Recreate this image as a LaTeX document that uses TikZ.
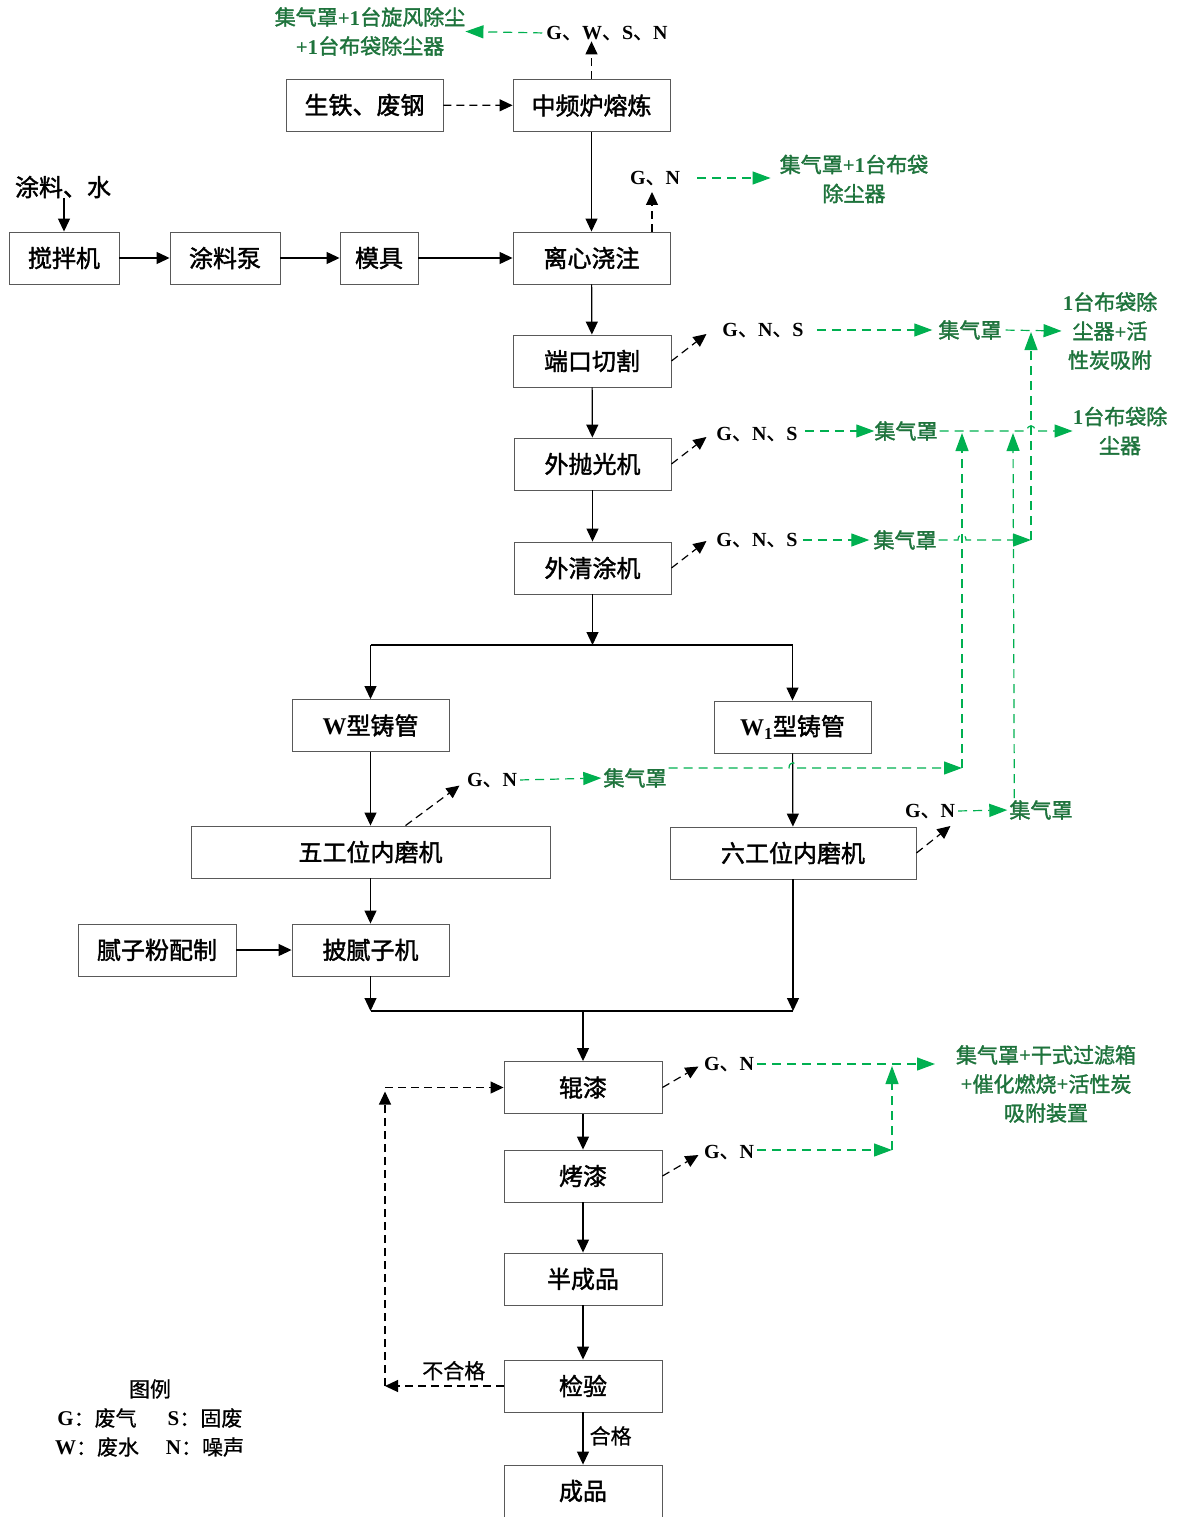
\documentclass[tikz,border=0pt]{standalone}
\usepackage{fontspec}
\setmainfont{Liberation Serif}
\newfontfamily\cjk{Noto Sans CJK SC}[FakeBold=0.6]
\newfontfamily\cjkb{Noto Sans CJK SC}[FakeBold=1.6]
\usetikzlibrary{arrows.meta,calc}
\definecolor{greenln}{RGB}{0,176,80}
\definecolor{greentx}{RGB}{30,115,60}
\newcommand\lt[1]{{\rmfamily #1}}
\newcommand\dn{{\cjk\mdseries 、}}
\begin{document}
\begin{tikzpicture}[x=1pt,y=-1pt,
  box/.style={draw=black!65, line width=0.9pt, inner sep=0pt, minimum height=52, font=\cjkb\fontsize{24}{24}\selectfont},
  emis/.style={font=\bfseries\fontsize{20}{20}\selectfont, inner sep=1pt},
  gtxt/.style={text=greentx, font=\cjkb\fontsize{21}{29}\selectfont, align=center, inner sep=0pt},
  plain/.style={font=\cjk\fontsize{21}{21}\selectfont, inner sep=0pt},
  flow/.style={-{Triangle[length=13pt,width=12pt]}, line width=1.2pt},
  dflow/.style={flow, dash pattern=on 8pt off 5pt},
  garrow/.style={-{Triangle[length=18pt,width=13pt]}, draw=greenln, line width=1.2pt, dash pattern=on 9pt off 6pt}
]
\useasboundingbox (0,0) rectangle (1179,1517);

% ---------- boxes ----------
\node[box, minimum width=157] (iron) at (364.5,105) {生铁、废钢};
\node[box, minimum width=157] (melt) at (591.5,105.5) {中频炉熔炼};
\node[box, minimum width=157] (cast) at (591.5,258) {离心浇注};
\node[box, minimum width=110] (mix) at (64,258) {搅拌机};
\node[box, minimum width=110] (pump) at (225,258) {涂料泵};
\node[box, minimum width=78] (mold) at (379,258) {模具};
\node[box, minimum width=158] (cut) at (592,361) {端口切割};
\node[box, minimum width=157] (pol) at (592.5,464) {外抛光机};
\node[box, minimum width=157] (clean) at (592.5,568) {外清涂机};
\node[box, minimum width=157] (w) at (370.5,725.5) {\lt{\bfseries W}型铸管};
\node[box, minimum width=157] (w1) at (792.5,727) {\lt{\bfseries W\textsubscript{1}}型铸管};
\node[box, minimum width=359] (five) at (370.5,852) {五工位内磨机};
\node[box, minimum width=246] (six) at (793,853) {六工位内磨机};
\node[box, minimum width=157] (putty) at (370.5,950) {披腻子机};
\node[box, minimum width=158] (powder) at (157,950) {腻子粉配制};
\node[box, minimum width=158] (roll) at (583,1087.5) {辊漆};
\node[box, minimum width=158] (bake) at (583,1176) {烤漆};
\node[box, minimum width=158] (semi) at (583,1279) {半成品};
\node[box, minimum width=158] (insp) at (583,1386) {检验};
\node[box, minimum width=158] (prod) at (583,1491) {成品};

\node[font=\cjkb\fontsize{24}{24}\selectfont, inner sep=0pt] (in) at (63,187) {涂料、水};

% ---------- emission labels ----------
\node[emis] (e1) at (607,33) {G\dn W\dn S\dn N};
\node[emis] (e2) at (655,178) {G\dn N};
\node[emis] (e3) at (763,330) {G\dn N\dn S};
\node[emis] (e4) at (757,434) {G\dn N\dn S};
\node[emis] (e5) at (757,540) {G\dn N\dn S};
\node[emis] (e6) at (492,780) {G\dn N};
\node[emis] (e7) at (930,811) {G\dn N};
\node[emis] (e8) at (729,1064) {G\dn N};
\node[emis] (e9) at (729,1152) {G\dn N};

% ---------- green treatment texts ----------
\node[gtxt] (t1) at (370,31.5) {集气罩\lt{\bfseries +1}台旋风除尘\\\lt{\bfseries +1}台布袋除尘器};
\node[gtxt] (t2) at (854,179) {集气罩\lt{\bfseries +1}台布袋\\除尘器};
\node[gtxt] (h1) at (970,330) {集气罩};
\node[gtxt] (t3) at (1110,331) {\lt{\bfseries 1}台布袋除\\尘器\lt{\bfseries +}活\\性炭吸附};
\node[gtxt] (h2) at (906,431) {集气罩};
\node[gtxt] (t4) at (1120,431) {\lt{\bfseries 1}台布袋除\\尘器};
\node[gtxt] (h3) at (905,540) {集气罩};
\node[gtxt] (h4) at (635,778) {集气罩};
\node[gtxt] (h5) at (1041,810) {集气罩};
\node[gtxt] (t5) at (1046,1084) {集气罩\lt{\bfseries +}干式过滤箱\\\lt{\bfseries +}催化燃烧\lt{\bfseries +}活性炭\\吸附装置};

% ---------- main flow ----------
\draw[dflow] (iron) -- (melt);
\draw[flow] (melt) -- (cast);
\draw[flow] (in.south -| mix.north) -- (mix.north);
\draw[flow] (mix) -- (pump);
\draw[flow] (pump) -- (mold);
\draw[flow] (mold) -- (cast);
\draw[flow] (cast) -- (cut);
\draw[flow] (cut) -- (pol);
\draw[flow] (pol) -- (clean);

\coordinate (b0) at (592.5,645);
\coordinate (bL) at (370.5,645);
\coordinate (bR) at (792.5,645);
\draw[flow] (clean.south) -- (b0);
\draw[line width=1.2pt] (bL) -- (bR);
\draw[flow] (bL) -- (w.north);
\draw[flow] (bR) -- (w1.north);
\draw[flow] (w) -- (five);
\draw[flow] (w1) -- (six);
\draw[flow] (five) -- (putty);
\draw[flow] (powder) -- (putty);

\coordinate (mL) at (370.5,1011);
\coordinate (mR) at (793,1011);
\coordinate (mC) at (583,1011);
\draw[flow] (putty.south) -- (mL);
\draw[flow] (six.south) -- (mR);
\draw[line width=1.2pt] (mL) -- (mR);
\draw[flow] (mC) -- (roll.north);
\draw[flow] (roll) -- (bake);
\draw[flow] (bake) -- (semi);
\draw[flow] (semi) -- (insp);
\draw[flow] (insp) -- node[plain, right=6pt, pos=0.45] (ok) {合格} (prod);

% feedback
\coordinate (fb1) at (385,1386);
\coordinate (fb2) at (385,1087.5);
\draw[dflow] (insp.west) -- node[plain, above=5pt, pos=0.42] (ng) {不合格} (fb1);
\draw[dflow] (fb1) -- ($(fb2)+(0,4)$);
\draw[dflow] (fb2) -- (roll.west);

% ---------- emissions (black dashed) ----------
\draw[dflow] (melt.north) -- (melt.north |- e1.south);
\draw[dflow] (cast.north -| 652,0) -- (652,192);
\draw[dflow] (cut.east) -- ++(35,-27);
\draw[dflow] (pol.east) -- ++(35,-27);
\draw[dflow] (clean.east) -- ++(35,-27);
\draw[dflow] ($(five.north)+(35,0)$) -- ++(54,-40);
\draw[dflow] (six.east) -- ++(34,-27);
\draw[dflow] (roll.east) -- ++(36,-21);
\draw[dflow] (bake.east) -- ++(36,-21);

% ---------- green connectors ----------
\draw[garrow, shorten <=3pt] (e1.west) -- (t1.east);
\draw[garrow, shorten <=16pt, shorten >=9pt] (e2.east) -- (e2.east -| t2.west);
\draw[garrow, shorten <=12pt, shorten >=6pt] (e3.east) -- (h1.west);
\draw[garrow, shorten <=4pt, shorten >=1pt] (h1.east) -- (t3.west);
\draw[garrow, shorten <=6pt] (e4.east |- h2.west) -- (h2.west);
\draw[garrow, shorten <=2pt] (h2.east) -- (1027,431) .. controls (1027,424) and (1035,424) .. (1035,431) -- (t4.west);
\draw[garrow, shorten <=4pt, shorten >=4pt] (e5.east) -- (h3.west);
\coordinate (j3) at (1031,540);
\draw[garrow, shorten <=2pt] (h3.east) -- (958,540) .. controls (958,533) and (966,533) .. (966,540) -- (j3);
\draw[garrow] (j3) -- (1031,332);
\draw[garrow, shorten <=2pt, shorten >=2pt] (e6.east) -- (h4.west);
\coordinate (j4) at (962,768);
\draw[garrow] ($(h4.east)+(2,-10)$) -- (789,768) .. controls (789,761) and (797,761) .. (797,768) -- (j4);
\draw[garrow] (j4) -- (962,433);
\draw[garrow, shorten <=2pt, shorten >=2pt] (e7.east) -- (h5.west);
\draw[garrow] ($(h5.north west)+(5,-2)$) -- (1013,433);
\coordinate (j8) at (935,1064);
\draw[garrow, shorten <=2pt] (e8.east) -- (j8);
\coordinate (j9) at (892,1150);
\draw[garrow, shorten <=2pt] (e9.east |- j9) -- (j9);
\draw[garrow] (j9) -- (892,1066);

% ---------- legend ----------
\node[plain] (lg) at (150,1389) {图例};
\node[plain] (lgG) at (97,1418) {\lt{\bfseries G}：废气};
\node[plain] (lgS) at (205,1418) {\lt{\bfseries S}：固废};
\node[plain] (lgW) at (97,1447) {\lt{\bfseries W}：废水};
\node[plain] (lgN) at (205,1447) {\lt{\bfseries N}：噪声};
\end{tikzpicture}
\end{document}
